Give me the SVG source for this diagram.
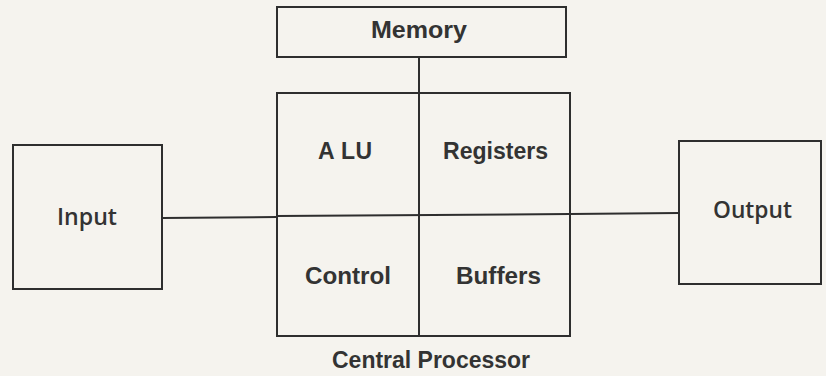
<svg xmlns="http://www.w3.org/2000/svg" width="826" height="376" viewBox="0 0 826 376">
<style>
.box{fill:none;stroke:#2e2e2e;stroke-width:2}
.ln{fill:none;stroke:#2e2e2e;stroke-width:2}
.t{font-family:"Liberation Sans",Arial,sans-serif;font-weight:bold;font-size:23px;fill:#333}
.h{font-family:"Open Sans","Liberation Sans",sans-serif;font-weight:600;font-size:24px;fill:#333}
</style>
<rect width="826" height="376" fill="#f5f3ee"/>
<g id="connectors">
<line class="ln" x1="419" y1="57" x2="419" y2="93"/>
<line class="ln" x1="162" y1="218" x2="277" y2="217"/>
<line class="ln" x1="570" y1="214" x2="679" y2="213"/>
</g>
<g id="memory">
<rect class="box" x="277" y="7" width="289" height="50"/>
<text class="t" x="371" y="38" textLength="96" lengthAdjust="spacingAndGlyphs">Memory</text>
</g>
<g id="central-processor">
<rect class="box" x="277" y="93" width="293" height="243"/>
<line class="ln" x1="419" y1="93" x2="419" y2="336"/>
<line class="ln" x1="277" y1="216" x2="570" y2="214"/>
<text class="t" x="332" y="368" textLength="198" lengthAdjust="spacingAndGlyphs">Central Processor</text>
</g>
<g id="alu">
<text class="t" x="318" y="159" textLength="54" lengthAdjust="spacing">A LU</text>
</g>
<g id="registers">
<text class="t" x="443" y="159" textLength="105" lengthAdjust="spacingAndGlyphs">Registers</text>
</g>
<g id="control">
<text class="t" x="305" y="284" textLength="86" lengthAdjust="spacingAndGlyphs">Control</text>
</g>
<g id="buffers">
<text class="t" x="456" y="284" textLength="85" lengthAdjust="spacingAndGlyphs">Buffers</text>
</g>
<g id="input">
<rect class="box" x="13" y="145" width="149" height="144"/>
<text class="h" x="57" y="225" textLength="60" lengthAdjust="spacingAndGlyphs">Input</text>
</g>
<g id="output">
<rect class="box" x="679" y="141" width="142" height="143"/>
<text class="h" x="713" y="218" textLength="79" lengthAdjust="spacingAndGlyphs">Output</text>
</g>
</svg>
